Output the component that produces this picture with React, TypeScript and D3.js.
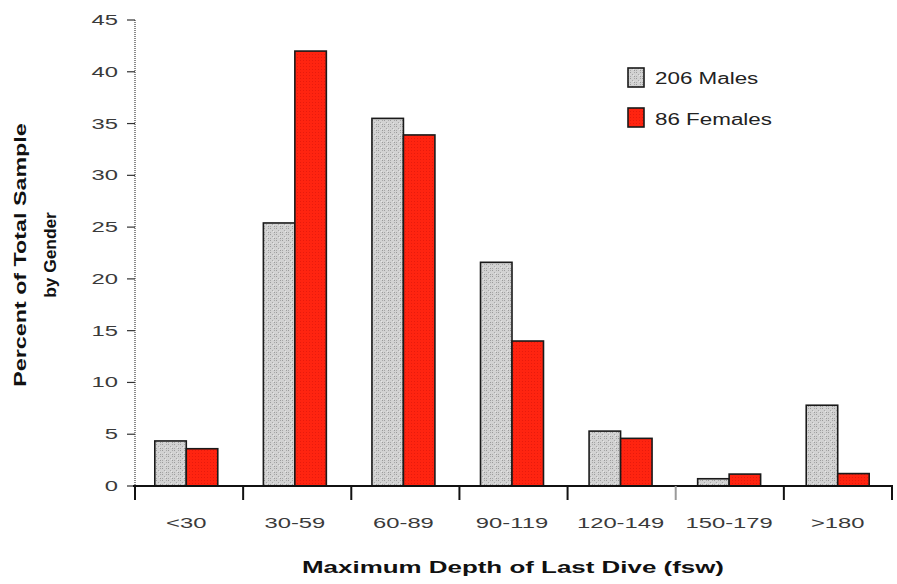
import React from "react";
import * as d3 from "d3";

const categories = ["<30", "30-59", "60-89", "90-119", "120-149", "150-179", ">180"];
const males = [4.35, 25.4, 35.5, 21.6, 5.3, 0.7, 7.8];
const females = [3.6, 42.0, 33.9, 14.0, 4.6, 1.15, 1.2];
const yTicks = [0, 5, 10, 15, 20, 25, 30, 35, 40, 45];
const seriesNames = ["206 Males", "86 Females"];

const W = 897;
const H = 584;
const SX = 1.7;

export default function App() {
  const y = d3.scaleLinear().domain([0, 45]).range([486, 20]);
  const x0 = d3
    .scaleBand<string>()
    .domain(categories)
    .range([132, 892])
    .paddingInner(0.42)
    .paddingOuter(0.21);
  const x1 = d3.scaleBand<string>().domain(["m", "f"]).range([0, x0.bandwidth()]);
  const axisScale = d3.scaleLinear().domain([0, categories.length]).range([135, 892]);
  const boundaries = d3.range(categories.length + 1).map((i) => axisScale(i));
  const font = "'Liberation Sans', Arial, Helvetica, sans-serif";

  return (
    <svg
      width={W}
      height={H}
      style={{ position: "absolute", left: 0, top: 0, background: "#fff" }}
      fontFamily={font}
    >
      <defs>
        <pattern id="greyPat" width="6" height="6" patternUnits="userSpaceOnUse">
          <rect width="6" height="6" fill="#d2d2d2" />
          <rect x="0" y="0" width="1" height="1" fill="#9a9a9a" />
          <rect x="2" y="2" width="1" height="1" fill="#a8a8a8" />
          <rect x="4" y="0" width="1" height="1" fill="#a8a8a8" />
          <rect x="0" y="4" width="1" height="1" fill="#a8a8a8" />
          <rect x="4" y="4" width="1" height="1" fill="#9a9a9a" />
          <rect x="3" y="3" width="1" height="1" fill="#e6e6e6" />
        </pattern>
        <pattern id="redPat" width="3" height="3" patternUnits="userSpaceOnUse">
          <rect width="3" height="3" fill="#ff2410" />
          <rect x="0" y="0" width="1" height="1" fill="#e81a0c" />
        </pattern>
      </defs>

      {/* bars */}
      {categories.map((c, i) => {
        const bx = x0(c)!;
        return (
          <g key={c}>
            <rect
              x={bx + x1("m")!}
              y={y(males[i])}
              width={x1.bandwidth()}
              height={y(0) - y(males[i])}
              fill="url(#greyPat)"
              stroke="#1a1a1a"
              strokeWidth={1.6}
            />
            <rect
              x={bx + x1("f")!}
              y={y(females[i])}
              width={x1.bandwidth()}
              height={y(0) - y(females[i])}
              fill="url(#redPat)"
              stroke="#1a1a1a"
              strokeWidth={1.6}
            />
          </g>
        );
      })}

      {/* y axis */}
      <line x1={135} x2={135} y1={y(45)} y2={y(0)} stroke="#8a8a8a" strokeWidth={2} strokeDasharray="1,1" />
      {yTicks.map((t) => (
        <g key={t}>
          <line x1={127} x2={135} y1={y(t)} y2={y(t)} stroke="#333" strokeWidth={1.2} />
          <text
            transform={`translate(118,${y(t) + 5}) scale(${SX},1)`}
            textAnchor="end"
            fontSize={14}
            fill="#3a3a3a"
          >
            {t}
          </text>
        </g>
      ))}

      {/* x axis */}
      <line x1={133} x2={893} y1={y(0)} y2={y(0)} stroke="#111" strokeWidth={2} />
      {boundaries.map((b, i) => (
        <line
          key={i}
          x1={b}
          x2={b}
          y1={y(0)}
          y2={y(0) + 14}
          stroke={i === 5 ? "#9a9a9a" : "#111"}
          strokeWidth={2}
        />
      ))}
      {categories.map((c) => (
        <text
          key={c}
          transform={`translate(${x0(c)! + x0.bandwidth() / 2},528) scale(${SX},1)`}
          textAnchor="middle"
          fontSize={14}
          fill="#3a3a3a"
        >
          {c}
        </text>
      ))}

      {/* axis titles */}
      <text
        x={513}
        y={573}
        textAnchor="middle"
        fontSize={17}
        fontWeight="bold"
        fill="#111"
        textLength={422}
        lengthAdjust="spacingAndGlyphs"
      >
        Maximum Depth of Last Dive (fsw)
      </text>
      <text
        transform="translate(26,255) rotate(-90) scale(1.37,1)"
        textAnchor="middle"
        fontSize={17}
        fontWeight="bold"
        fill="#111"
      >
        Percent of Total Sample
      </text>
      <text
        transform="translate(56,255) rotate(-90) scale(1.02,1)"
        textAnchor="middle"
        fontSize={17}
        fontWeight="bold"
        fill="#111"
      >
        by Gender
      </text>

      {/* legend */}
      <rect x={628} y={68} width={16} height={19} fill="url(#greyPat)" stroke="#1a1a1a" strokeWidth={1.6} />
      <rect x={628} y={108} width={16} height={19} fill="url(#redPat)" stroke="#1a1a1a" strokeWidth={1.6} />
      <text transform={`translate(655,84) scale(1.4,1)`} fontSize={16} fill="#222">
        {seriesNames[0]}
      </text>
      <text transform={`translate(655,125) scale(1.4,1)`} fontSize={16} fill="#222">
        {seriesNames[1]}
      </text>
    </svg>
  );
}
